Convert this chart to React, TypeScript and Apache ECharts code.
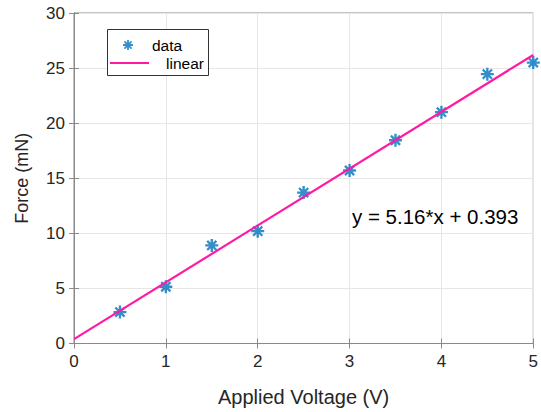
import React, { useEffect, useRef } from "react";
import * as echarts from "echarts";

const voltage = [0.5, 1, 1.5, 2, 2.5, 3, 3.5, 4, 4.5, 5];
const force = [2.85, 5.15, 8.9, 10.2, 13.7, 15.7, 18.45, 21.0, 24.45, 25.5];
const fitX = [0, 5];
const fitY = [0.393, 26.193];
const xTicks = [0, 1, 2, 3, 4, 5];
const yTicks = [0, 5, 10, 15, 20, 25, 30];
const equation = "y = 5.16*x + 0.393";

const FONT = "'Liberation Sans', Arial, Helvetica, sans-serif";
const AXIS_COLOR = "#8a8a8a";
const TEXT_COLOR = "#262626";
const GRID_COLOR = "#e6e6e6";
const BLUE = "#0072BD";
const PINK = "#ff1aa3";

const ASTERISK =
  "path://M0 8.2L20 8.2L20 11.8L0 11.8Z M8.2 0L11.8 0L11.8 20L8.2 20Z M4.2 1.66L18.34 15.8L15.8 18.34L1.66 4.2Z M1.66 15.8L15.8 1.66L18.34 4.2L4.2 18.34Z";
const LINE_ICON = "path://M0 0L40 0L40 2.2L0 2.2Z";

export default function App() {
  const ref = useRef<HTMLDivElement>(null);
  useEffect(() => {
    if (!ref.current) return;
    const chart = echarts.init(ref.current, undefined, { renderer: "svg" });
    const scatterData = voltage.map((v, i) => [v, force[i]]);
    const fitData = fitX.map((v, i) => [v, fitY[i]]);
    chart.setOption({
      animation: false,
      backgroundColor: "#ffffff",
      textStyle: { fontFamily: FONT },
      grid: {
        left: 74,
        top: 13,
        right: 4,
        bottom: 68.5,
        show: true,
        borderColor: AXIS_COLOR,
        borderWidth: 1,
        backgroundColor: "#ffffff",
      },
      xAxis: [
        {
          type: "value",
          min: xTicks[0],
          max: xTicks[xTicks.length - 1],
          interval: 1,
          position: "bottom",
          name: "Applied Voltage (V)",
          nameLocation: "middle",
          nameGap: 43,
          nameTextStyle: { fontSize: 20, color: TEXT_COLOR, fontFamily: FONT },
          axisLine: { show: true, lineStyle: { color: AXIS_COLOR, width: 1 } },
          axisTick: { show: true, inside: true, length: 5, lineStyle: { color: AXIS_COLOR } },
          axisLabel: { fontSize: 17, color: TEXT_COLOR, margin: 9, fontFamily: FONT },
          splitLine: { show: true, lineStyle: { color: GRID_COLOR, width: 1 } },
        },
        {
          type: "value",
          min: xTicks[0],
          max: xTicks[xTicks.length - 1],
          interval: 1,
          position: "top",
          axisLine: { show: true, lineStyle: { color: AXIS_COLOR, width: 1 } },
          axisTick: { show: true, inside: true, length: 5, lineStyle: { color: AXIS_COLOR } },
          axisLabel: { show: false },
          splitLine: { show: false },
        },
      ],
      yAxis: [
        {
          type: "value",
          min: yTicks[0],
          max: yTicks[yTicks.length - 1],
          interval: 5,
          position: "left",
          name: "Force (mN)",
          nameLocation: "middle",
          nameGap: 43,
          nameTextStyle: { fontSize: 18, color: TEXT_COLOR, fontFamily: FONT },
          axisLine: { show: true, lineStyle: { color: AXIS_COLOR, width: 1 } },
          axisTick: { show: true, inside: true, length: 5, lineStyle: { color: AXIS_COLOR } },
          axisLabel: { fontSize: 17, color: TEXT_COLOR, margin: 9, fontFamily: FONT },
          splitLine: { show: true, lineStyle: { color: GRID_COLOR, width: 1 } },
        },
        {
          type: "value",
          min: yTicks[0],
          max: yTicks[yTicks.length - 1],
          interval: 5,
          position: "right",
          axisLine: { show: true, lineStyle: { color: AXIS_COLOR, width: 1 } },
          axisTick: { show: true, inside: true, length: 5, lineStyle: { color: AXIS_COLOR } },
          axisLabel: { show: false },
          splitLine: { show: false },
        },
      ],
      legend: [
        {
          data: [{ name: "data", icon: ASTERISK }],
          left: 123,
          top: 37,
          padding: 0,
          itemWidth: 10,
          itemHeight: 10,
          z: 20,
          itemStyle: { color: BLUE },
          textStyle: { fontSize: 15.5, color: "#000000", fontFamily: FONT, padding: [0, 0, 0, 14] },
        },
        {
          data: [{ name: "linear", icon: LINE_ICON }],
          left: 110,
          top: 55,
          padding: 0,
          itemWidth: 39,
          itemHeight: 14,
          z: 20,
          itemStyle: { color: PINK },
          textStyle: { fontSize: 15.5, color: "#000000", fontFamily: FONT, padding: [0, 0, 0, 12] },
        },
      ],
      graphic: [
        {
          type: "rect",
          left: 107,
          top: 29,
          shape: { width: 101, height: 46 },
          style: { fill: "#ffffff", stroke: "#333333", lineWidth: 1 },
          z: 5,
          silent: true,
        },
        {
          type: "text",
          left: 352,
          top: 206,
          style: { text: equation, fontSize: 20.5, fill: "#000000", fontFamily: FONT },
          z: 60,
        },
      ],
      series: [
        {
          name: "data",
          type: "scatter",
          xAxisIndex: 0,
          yAxisIndex: 0,
          symbol: ASTERISK,
          symbolSize: 13,
          itemStyle: { color: BLUE },
          data: scatterData,
          z: 3,
        },
        {
          name: "linear",
          type: "line",
          xAxisIndex: 0,
          yAxisIndex: 0,
          symbol: "none",
          showSymbol: false,
          lineStyle: { color: PINK, width: 2.2 },
          itemStyle: { color: PINK },
          data: fitData,
          z: 4,
        },
      ],
    });
    return () => chart.dispose();
  }, []);
  return (
    <div
      ref={ref}
      style={{ width: 541, height: 412, position: "absolute", left: 0, top: 0 }}
    />
  );
}
